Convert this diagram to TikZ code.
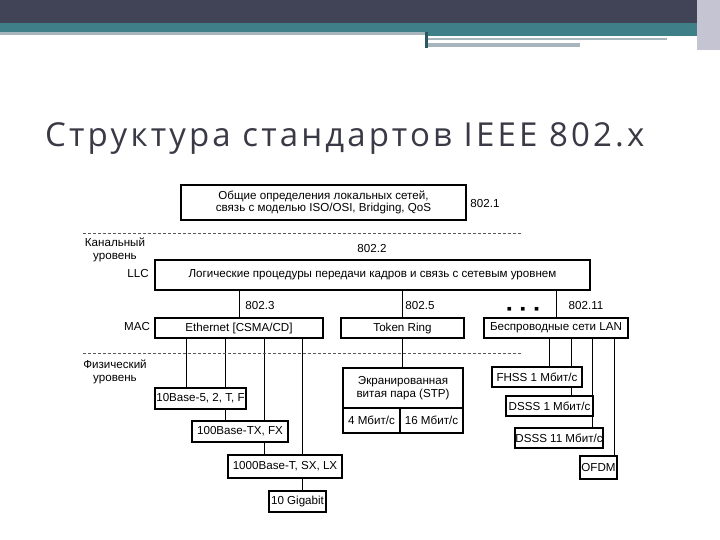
\documentclass[tikz,border=0pt]{standalone}
\usepackage{fontspec}
\setmainfont{Liberation Sans}
\newfontfamily\titlefont[LetterSpace=9.5]{Open Sans}
\usetikzlibrary{backgrounds}
\definecolor{hdark}{RGB}{64,68,86}
\definecolor{hteal}{RGB}{62,127,136}
\definecolor{hgray}{RGB}{167,182,188}
\definecolor{hside}{RGB}{196,196,210}
\definecolor{ttl}{RGB}{58,58,70}
\tikzset{bx/.style={draw,line width=1.1pt,fill=white,inner sep=0pt,align=center},
 lbl/.style={inner sep=0pt,align=center},
 wire/.style={line width=.9pt},
 lvl/.style={draw=black!65,line width=.6pt,dash pattern=on 3pt off 2pt}}
\begin{document}
\begin{tikzpicture}[x=1pt,y=-1pt,font=\fontsize{11.6}{12.5}\selectfont]
\useasboundingbox (0,0) rectangle (720,540);
% header bars
\fill[hdark] (0,0) rectangle (720,23);
\fill[hteal] (0,23) rectangle (720,32);
\fill[hgray] (0,32) rectangle (425,35);
\fill[hteal] (425,32) rectangle (697,36);
\fill[hgray] (428,38) rectangle (667,40);
\fill[hgray] (428,43) rectangle (580,47);
\fill[hteal!70!black] (425,32) rectangle (428,48);
\fill[hside] (697,0) rectangle (720,50);
\node[lbl,font=\titlefont\fontsize{33}{38}\selectfont,text=ttl,anchor=base west](title) at(45,147){Структура стандартов IEEE 802.x};
% levels
\draw[lvl] (83,233)--(522,233);
\draw[lvl] (83,353)--(522,353);
\node[lbl](kan) at(115,250){Канальный\\уровень};
\node[lbl](fiz) at(115,372){Физический\\уровень};
\node[lbl](llcl) at(138,274){LLC};
\node[lbl](macl) at(137,327){MAC};
% boxes
\node[bx,minimum width=285,minimum height=35](gen) at(323.5,202.5){Общие определения локальных сетей,\\связь с моделью ISO/OSI, Bridging, QoS};
\node[lbl](n1) at(485,204){802.1};
\node[lbl](n2) at(372,249){802.2};
\node[bx,minimum width=435,minimum height=30](llc) at(372.5,275){Логические процедуры передачи кадров и связь с сетевым уровнем};
\node[bx,minimum width=168,minimum height=20](eth) at(239,328){Ethernet [CSMA/CD]};
\node[bx,minimum width=123,minimum height=20](tr) at(402.5,328){Token Ring};
\node[bx,minimum width=144,minimum height=20](wl) at(556,328){Беспроводные сети LAN};
\node[lbl](n3) at(260,306){802.3};
\node[lbl](n5) at(420,306){802.5};
\node[lbl,font=\fontsize{7.5}{8}\selectfont](dots) at(523,309){■\hspace{9pt}■\hspace{9pt}■};
\node[lbl](n11) at(586,306){802.11};
\node[bx,minimum width=91,minimum height=21](b10) at(200.5,398.5){10Base-5, 2, T, F};
\node[bx,minimum width=96,minimum height=21](b100) at(240,431.5){100Base-TX, FX};
\node[bx,minimum width=114,minimum height=23](b1000) at(285,466.5){1000Base-T, SX, LX};
\node[bx,minimum width=57,minimum height=21](b10g) at(297.5,501.5){10 Gigabit};
\node[bx,minimum width=120,minimum height=40](stp) at(403,388){Экранированная\\витая пара (STP)};
\node[bx,minimum width=57,minimum height=25](m4) at(371.5,420.5){4 Мбит/с};
\node[bx,minimum width=63,minimum height=25](m16) at(431.5,420.5){16 Мбит/с};
\node[bx,minimum width=90,minimum height=20](fhss) at(537,377){FHSS 1 Мбит/с};
\node[bx,minimum width=87,minimum height=20](dsss1) at(549.5,406){DSSS 1 Мбит/с};
\node[bx,minimum width=88,minimum height=20](dsss11) at(559,438){DSSS 11 Мбит/с};
\node[bx,minimum width=37,minimum height=23](ofdm) at(598.5,467.5){OFDM};
% links
\begin{pgfonlayer}{background}
\foreach \t in {eth,tr,wl}
 \draw[wire](llc.south -| \t.north)--(\t.north);
\draw[wire](tr.south)--(stp.north -| tr.south);
\foreach \x/\t in {186/b10,225/b100,264/b1000,302/b10g}
 \draw[wire](\x,0 |- eth.south)--(\x,0 |- \t.north);
\foreach \x/\t in {549/fhss,571/dsss1,592/dsss11,614/ofdm}
 \draw[wire](\x,0 |- wl.south)--(\x,0 |- \t.north);
\end{pgfonlayer}
\end{tikzpicture}
\end{document}
